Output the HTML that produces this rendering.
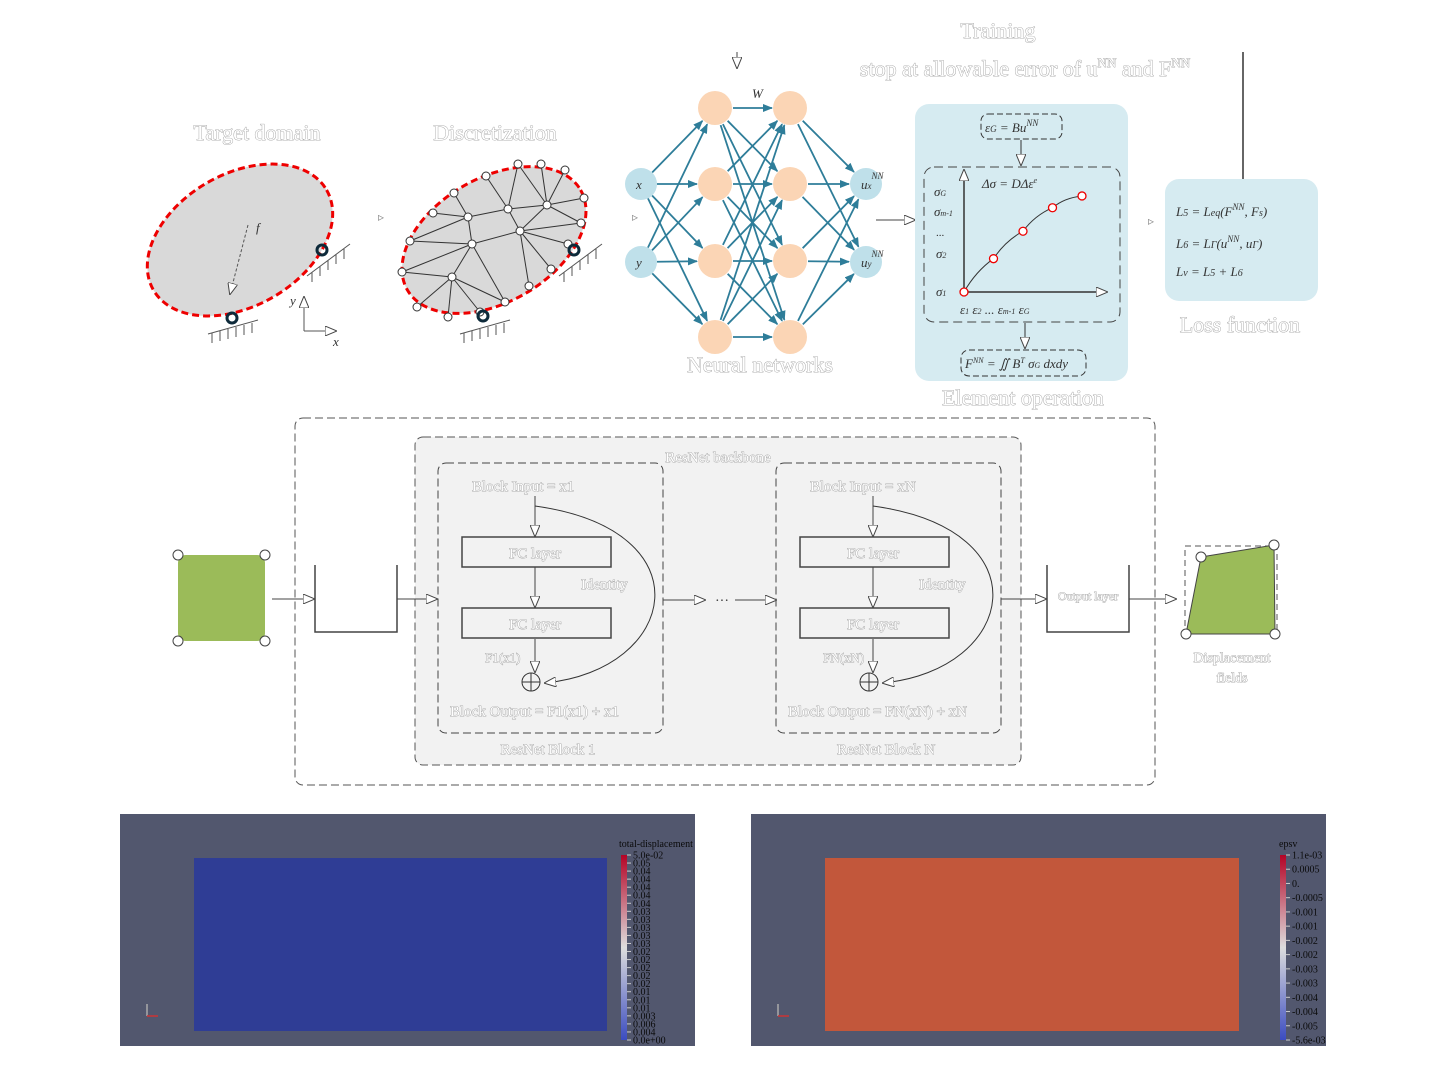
<!DOCTYPE html>
<html><head><meta charset="utf-8"><style>
html,body{margin:0;padding:0;background:#fff;width:1440px;height:1080px;overflow:hidden}
svg{display:block;font-family:"Liberation Serif",serif}
.wt{fill:#fff;stroke:#999;stroke-width:0.8;paint-order:stroke}
.mt{font-family:"Liberation Serif",serif;font-style:italic;fill:#333;font-size:13px}
.cb{font-size:10px;fill:#0a0a0a}
</style></head><body>
<svg width="1440" height="1080" viewBox="0 0 1440 1080">
<defs>
<marker id="ah" markerWidth="12" markerHeight="10" refX="11" refY="5" orient="auto" markerUnits="userSpaceOnUse"><path d="M0,0 L12,5 L0,10 Z" fill="#fff" stroke="#444" stroke-width="1"/></marker>
<marker id="ta" markerWidth="10" markerHeight="8" refX="9" refY="4" orient="auto" markerUnits="userSpaceOnUse"><path d="M0,0 L10,4 L0,8 Z" fill="#2e7d99"/></marker>
<linearGradient id="cw" x1="0" y1="1" x2="0" y2="0"><stop offset="0" stop-color="#3b4cc0"/><stop offset="0.5" stop-color="#dddddd"/><stop offset="1" stop-color="#b40426"/></linearGradient>
</defs>

<text x="998" y="38" class="wt" font-size="22" text-anchor="middle">Training</text>
<text x="1025" y="76" class="wt" font-size="22" text-anchor="middle">stop at allowable error of u<tspan font-size="13" dy="-9">NN</tspan><tspan dy="9"> and F</tspan><tspan font-size="13" dy="-9">NN</tspan></text>
<line x1="1243" y1="52" x2="1243" y2="179" stroke="#333" stroke-width="1.5"/>
<line x1="737" y1="52" x2="737" y2="68" stroke="#444" marker-end="url(#ah)"/>

<g>
<text x="257" y="140" class="wt" font-size="22" text-anchor="middle">Target domain</text>
<ellipse cx="240" cy="240" rx="100" ry="66" transform="rotate(-30 240 240)" fill="#d9d9d9" stroke="#e00" stroke-width="3" stroke-dasharray="7,4"/>
<line x1="248" y1="225" x2="230" y2="294" stroke="#555" stroke-dasharray="3,2" marker-end="url(#ah)"/>
<text x="256" y="232" class="mt" font-size="18">f</text>
<circle cx="232" cy="318" r="5" fill="none" stroke="#0d2a3a" stroke-width="3"/>
<path d="M208,334 L258,320 M212,333 l0,10 M220,331 l0,10 M228,329 l0,10 M236,327 l0,10 M244,325 l0,10 M252,323 l0,10" stroke="#555" fill="none"/>
<circle cx="322" cy="250" r="5" fill="none" stroke="#0d2a3a" stroke-width="3"/>
<path d="M307,276 L350,244 M312,272 l0,10 M320,266 l0,10 M328,260 l0,10 M336,254 l0,10 M344,249 l0,10" stroke="#555" fill="none"/>
<line x1="304" y1="331" x2="304" y2="297" stroke="#555" marker-end="url(#ah)"/>
<line x1="304" y1="331" x2="336" y2="331" stroke="#555" marker-end="url(#ah)"/>
<text x="290" y="305" class="mt">y</text>
<text x="333" y="346" class="mt">x</text>
</g>
<text x="378" y="221" font-size="12" fill="#888">▹</text>

<g>
<text x="495" y="140" class="wt" font-size="22" text-anchor="middle">Discretization</text>
<ellipse cx="494" cy="240" rx="100" ry="62" transform="rotate(-30 494 240)" fill="#d9d9d9" stroke="#e00" stroke-width="3" stroke-dasharray="7,4"/>
<g id="mesh" stroke="#333" stroke-width="1"></g>
<circle cx="483" cy="316" r="5" fill="none" stroke="#0d2a3a" stroke-width="3"/>
<path d="M460,334 L510,320 M464,333 l0,10 M472,331 l0,10 M480,329 l0,10 M488,327 l0,10 M496,325 l0,10 M504,323 l0,10" stroke="#555" fill="none"/>
<circle cx="574" cy="250" r="5" fill="none" stroke="#0d2a3a" stroke-width="3"/>
<path d="M559,276 L602,244 M564,272 l0,10 M572,266 l0,10 M580,260 l0,10 M588,254 l0,10 M596,249 l0,10" stroke="#555" fill="none"/>
</g>
<text x="632" y="221" font-size="12" fill="#888">▹</text>

<g id="nn"></g>
<text x="760" y="372" class="wt" font-size="22" text-anchor="middle">Neural networks</text>
<text x="752" y="98" class="mt" font-size="16">W</text>
<line x1="876" y1="220" x2="915" y2="220" stroke="#444" marker-end="url(#ah)"/>

<g>
<rect x="915" y="104" width="213" height="277" rx="14" fill="#d6ebf1"/>
<rect x="981" y="114" width="81" height="25" rx="7" fill="none" stroke="#333" stroke-dasharray="6,3"/>
<text x="985" y="132" class="mt">ε<tspan font-size="9">G</tspan> = Bu<tspan font-size="9" dy="-6">NN</tspan></text>
<line x1="1021" y1="140" x2="1021" y2="165" stroke="#333" marker-end="url(#ah)"/>
<rect x="924" y="167" width="196" height="155" rx="10" fill="none" stroke="#444" stroke-dasharray="9,5"/>
<line x1="964" y1="292" x2="964" y2="170" stroke="#333" stroke-width="1.5" marker-end="url(#ah)"/>
<line x1="964" y1="292" x2="1107" y2="292" stroke="#333" stroke-width="1.5" marker-end="url(#ah)"/>
<text x="982" y="188" class="mt" font-size="12">Δσ = DΔε<tspan font-size="8" dy="-5">e</tspan></text>
<text x="934" y="196" class="mt" font-size="11">σ<tspan font-size="8">G</tspan></text>
<text x="934" y="216" class="mt" font-size="11">σ<tspan font-size="8">m-1</tspan></text>
<text x="936" y="236" font-size="11" fill="#333">...</text>
<text x="936" y="258" class="mt" font-size="11">σ<tspan font-size="8">2</tspan></text>
<text x="936" y="296" class="mt" font-size="11">σ<tspan font-size="8">1</tspan></text>
<text x="960" y="314" class="mt" font-size="11">ε<tspan font-size="8">1</tspan>  ε<tspan font-size="8">2</tspan>       ...   ε<tspan font-size="8">m-1</tspan>   ε<tspan font-size="8">G</tspan></text>
<path id="curve" fill="none" stroke="#333" stroke-width="1"/>
<g id="curvepts"></g>
<line x1="1025" y1="323" x2="1025" y2="348" stroke="#333" marker-end="url(#ah)"/>
<rect x="961" y="350" width="125" height="26" rx="8" fill="none" stroke="#333" stroke-dasharray="6,3"/>
<text x="965" y="368" class="mt" font-size="12">F<tspan font-size="8" dy="-5">NN</tspan><tspan dy="5"> = ∬ B</tspan><tspan font-size="8" dy="-5">T</tspan><tspan dy="5"> σ</tspan><tspan font-size="8">G</tspan> dxdy</text>
<text x="1023" y="405" class="wt" font-size="22" text-anchor="middle">Element operation</text>
</g>
<text x="1148" y="225" font-size="12" fill="#888">▹</text>

<g>
<rect x="1165" y="179" width="153" height="122" rx="14" fill="#d6ebf1"/>
<text x="1176" y="216" class="mt" font-size="16">L<tspan font-size="10">5</tspan> = L<tspan font-size="10">eq</tspan>(F<tspan font-size="9" dy="-6">NN</tspan><tspan dy="6">, F</tspan><tspan font-size="10">s</tspan>)</text>
<text x="1176" y="248" class="mt" font-size="16">L<tspan font-size="10">6</tspan> = L<tspan font-size="10">Γ</tspan>(u<tspan font-size="9" dy="-6">NN</tspan><tspan dy="6">, u</tspan><tspan font-size="10">Γ</tspan>)</text>
<text x="1176" y="276" class="mt" font-size="16">L<tspan font-size="10">v</tspan> = L<tspan font-size="10">5</tspan> + L<tspan font-size="10">6</tspan></text>
<text x="1240" y="332" class="wt" font-size="22" text-anchor="middle">Loss function</text>
</g>

<g>
<rect x="295" y="418" width="860" height="367" rx="8" fill="none" stroke="#555" stroke-dasharray="8,4"/>
<rect x="415" y="437" width="606" height="328" rx="8" fill="#f2f2f2" stroke="#555" stroke-dasharray="8,4"/>
<text x="718" y="462" class="wt" font-size="15" text-anchor="middle">ResNet backbone</text>
<rect x="178" y="555" width="87" height="86" rx="8" fill="#9bbb59"/>
<g fill="#fff" stroke="#444"><circle cx="178" cy="555" r="5"/><circle cx="265" cy="555" r="5"/><circle cx="178" cy="641" r="5"/><circle cx="265" cy="641" r="5"/></g>
<line x1="272" y1="599" x2="314" y2="599" stroke="#444" marker-end="url(#ah)"/>
<path d="M315,565 L315,632 L397,632 L397,565" fill="none" stroke="#444" stroke-width="1.5"/>
<line x1="397" y1="599" x2="437" y2="599" stroke="#444" marker-end="url(#ah)"/>
<g id="blocks"></g>
<line x1="663" y1="600" x2="705" y2="600" stroke="#444" marker-end="url(#ah)"/>
<text x="722" y="605" font-size="14" fill="#333" text-anchor="middle">···</text>
<line x1="735" y1="600" x2="776" y2="600" stroke="#444" marker-end="url(#ah)"/>
<line x1="1001" y1="599" x2="1046" y2="599" stroke="#444" marker-end="url(#ah)"/>
<path d="M1047,565 L1047,632 L1129,632 L1129,565" fill="none" stroke="#444" stroke-width="1.5"/>
<text x="1088" y="600" class="wt" font-size="12" text-anchor="middle">Output layer</text>
<line x1="1129" y1="599" x2="1176" y2="599" stroke="#444" marker-end="url(#ah)"/>
<rect x="1185" y="546" width="92" height="88" fill="none" stroke="#555" stroke-dasharray="6,4"/>
<polygon points="1201,557 1274,545 1275,634 1186,634" fill="#9bbb59" stroke="#444"/>
<g fill="#fff" stroke="#444"><circle cx="1201" cy="557" r="5"/><circle cx="1274" cy="545" r="5"/><circle cx="1275" cy="634" r="5"/><circle cx="1186" cy="634" r="5"/></g>
<text x="1232" y="662" class="wt" font-size="14" text-anchor="middle">Displacement</text>
<text x="1232" y="682" class="wt" font-size="14" text-anchor="middle">fields</text>
</g>

<g>
<rect x="120" y="814" width="575" height="232" fill="#52576e"/>
<rect x="194" y="858" width="413" height="173" fill="#2f3d95"/>
<rect x="621" y="855" width="6" height="185" fill="url(#cw)"/>
<text x="619" y="847" class="cb" font-size="9">total-displacement</text>
<g id="cb1"></g>
<g stroke-width="1.5"><line x1="147" y1="1016" x2="147" y2="1004" stroke="#aaa"/><line x1="147" y1="1016" x2="158" y2="1016" stroke="#c33"/></g>
</g>
<g>
<rect x="751" y="814" width="575" height="232" fill="#52576e"/>
<rect x="825" y="858" width="414" height="173" fill="#c2573b"/>
<rect x="1280" y="855" width="6" height="185" fill="url(#cw)"/>
<text x="1279" y="847" class="cb" font-size="9">epsv</text>
<g id="cb2"></g>
<g stroke-width="1.5"><line x1="778" y1="1016" x2="778" y2="1004" stroke="#aaa"/><line x1="778" y1="1016" x2="789" y2="1016" stroke="#c33"/></g>
</g>
</svg>
<script>
const strainPts = [0, 1, 2, 3, 4];
const stressPts = [0, 34, 62, 86, 98];
const cb1Labels = ["5.0e-02","0.05","0.04","0.04","0.04","0.04","0.04","0.03","0.03","0.03","0.03","0.03","0.02","0.02","0.02","0.02","0.02","0.01","0.01","0.01","0.003","0.006","0.004","0.0e+00"];
const cb2Labels = ["1.1e-03","0.0005","0.","-0.0005","-0.001","-0.001","-0.002","-0.002","-0.003","-0.003","-0.004","-0.004","-0.005","-5.6e-03"];
const NS="http://www.w3.org/2000/svg";
function mk(t,a,p){const e=document.createElementNS(NS,t);for(const k in a)e.setAttribute(k,a[k]);p.appendChild(e);return e;}

const xs=v=>964+v*29.5, ys=v=>292-v*0.98;
const cv=document.getElementById('curve');
let dd="M"+xs(strainPts[0])+","+ys(stressPts[0]);
for(let i=1;i<strainPts.length;i++){const x0=xs(strainPts[i-1]),y0=ys(stressPts[i-1]),x1=xs(strainPts[i]),y1=ys(stressPts[i]);dd+=" Q"+((x0+x1)/2-3)+","+((y0+y1)/2-4)+" "+x1+","+y1;}
cv.setAttribute('d',dd);
const cp=document.getElementById('curvepts');
strainPts.forEach((s,i)=>{const c=mk('circle',{cx:xs(s),cy:ys(stressPts[i]),r:4,fill:'#fff',stroke:'#e00','stroke-width':1.3},cp);

});

const bnd=[[518,164],[541,164],[565,170],[584,198],[581,223],[568,244],[551,269],[529,286],[505,302],[480,312],[448,317],[417,307],[402,272],[410,241],[433,213],[454,193],[486,176]];
const inn=[[547,205],[508,209],[468,217],[520,231],[472,244],[452,277]];
const edges=[[0,'a0'],[1,'a0'],[2,'a0'],[3,'a0'],[4,'a0'],[0,'a1'],[16,'a1'],['a0','a1'],['a1','a2'],[15,'a2'],[14,'a2'],[13,'a2'],['a2','a4'],['a1','a3'],['a0','a3'],[4,'a3'],[5,'a3'],['a3','a4'],[13,'a4'],[12,'a4'],['a4','a5'],[12,'a5'],[11,'a5'],[10,'a5'],[9,'a5'],[8,'a4'],['a3',7],[8,'a5'],['a3',6]];
const P=k=>typeof k==='string'?inn[+k.slice(1)]:bnd[k];
const mg=document.getElementById('mesh');
edges.forEach(e=>{const a=P(e[0]),b=P(e[1]);const l=mk('line',{x1:a[0],y1:a[1],x2:b[0],y2:b[1]},mg);

});
bnd.concat(inn).forEach(p=>{const c=mk('circle',{cx:p[0],cy:p[1],r:4,fill:'#fff',stroke:'#333'},mg);

});

const nn=document.getElementById('nn');
const L0=[[641,184,'x'],[641,262,'y']],L1=[108,184,261,337].map(y=>[715,y]),L2=[108,184,261,337].map(y=>[790,y]),L3=[[866,184,'ux'],[866,262,'uy']];
function conn(A,B,r1,r2){A.forEach(a=>B.forEach(b=>{const dx=b[0]-a[0],dy=b[1]-a[1],L=Math.hypot(dx,dy);const l=mk('line',{x1:a[0]+dx/L*r1,y1:a[1]+dy/L*r1,x2:b[0]-dx/L*r2,y2:b[1]-dy/L*r2,stroke:'#2e7d99','stroke-width':1.8,'marker-end':'url(#ta)'},nn);

}));}
conn(L0,L1,16,18);conn(L1,L2,18,18);conn(L2,L3,18,17);
L0.concat(L3).forEach(n=>{const c=mk('circle',{cx:n[0],cy:n[1],r:16,fill:'#bfe0ea'},nn);


const t=mk('text',{x:n[0]-5,y:n[1]+5,class:'mt','font-size':15},nn);t.textContent=n[2].length>1?'u':n[2];
if(n[2].length>1){const s=mk('tspan',{'font-size':9},t);s.textContent=n[2][1];const s2=mk('tspan',{'font-size':9,dy:-10},t);s2.textContent='NN';}});
L1.concat(L2).forEach(n=>{const c=mk('circle',{cx:n[0],cy:n[1],r:17,fill:'#fbd5b5'},nn);

});

const bg=document.getElementById('blocks');
[[438,'1'],[776,'N']].forEach(([x0,k])=>{
 const g=mk('g',{},bg);
 
 
 mk('rect',{x:x0,y:463,width:225,height:270,rx:8,fill:'none',stroke:'#444','stroke-dasharray':'8,4'},g);
 const cx=x0+97;
 const t1=mk('text',{x:x0+34,y:491,class:'wt','font-size':15},g);t1.textContent='Block Input = x'+k;
 mk('line',{x1:cx,y1:496,x2:cx,y2:536,stroke:'#444','marker-end':'url(#ah)'},g);
 mk('rect',{x:x0+24,y:537,width:149,height:30,fill:'none',stroke:'#444','stroke-width':1.5},g);
 const f1=mk('text',{x:cx,y:558,class:'wt','font-size':15,'text-anchor':'middle'},g);f1.textContent='FC layer';
 mk('line',{x1:cx,y1:567,x2:cx,y2:607,stroke:'#444','marker-end':'url(#ah)'},g);
 mk('rect',{x:x0+24,y:608,width:149,height:30,fill:'none',stroke:'#444','stroke-width':1.5},g);
 const f2=mk('text',{x:cx,y:629,class:'wt','font-size':15,'text-anchor':'middle'},g);f2.textContent='FC layer';
 mk('line',{x1:cx,y1:639,x2:cx,y2:672,stroke:'#444','marker-end':'url(#ah)'},g);
 mk('circle',{cx:cx-4,cy:682,r:9,fill:'none',stroke:'#333'},g);
 mk('path',{d:`M${cx-13},682 h18 M${cx-4},673 v18`,stroke:'#333'},g);
 mk('path',{d:`M${cx},506 C${x0+270},530 ${x0+240},670 ${cx+10},683`,fill:'none',stroke:'#333','marker-end':'url(#ah)'},g);
 const id=mk('text',{x:x0+143,y:589,class:'wt','font-size':15},g);id.textContent='Identity';
 const fx=mk('text',{x:x0+47,y:662,class:'wt','font-size':13},g);fx.textContent='F'+k+'(x'+k+')';
 const bo=mk('text',{x:x0+12,y:716,class:'wt','font-size':15},g);bo.textContent='Block Output = F'+k+'(x'+k+') + x'+k;
 const bt=mk('text',{x:x0+110,y:754,class:'wt','font-size':15,'text-anchor':'middle'},g);bt.textContent='ResNet Block '+k;
});

function cbar(id,labels,x){const g=document.getElementById(id);const y0=855,y1=1040;
labels.forEach((s,i)=>{const y=y0+(y1-y0)*i/(labels.length-1);
mk('line',{x1:x+6,y1:y,x2:x+10,y2:y,stroke:'#ccc'},g);
const t=mk('text',{x:x+12,y:y+3.5,class:'cb'},g);t.textContent=s;

});}
cbar('cb1',cb1Labels,621);cbar('cb2',cb2Labels,1280);
</script>
</body></html>
